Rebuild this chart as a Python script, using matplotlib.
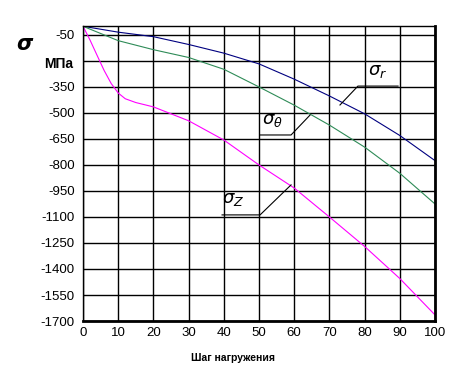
import matplotlib
matplotlib.use("Agg")
import matplotlib.pyplot as plt

plt.rcParams['font.family'] = ['Liberation Sans', 'DejaVu Sans']

# данные
steps = [0, 10, 20, 30, 40, 50, 60, 70, 80, 90, 100]
sigma_r = [0, -34, -60, -105, -155, -217, -305, -402, -505, -630, -775]
sigma_t = [0, -83, -135, -180, -248, -350, -455, -570, -697, -848, -1025]

steps_z = [0, 2, 4, 6, 8, 10, 12, 15, 20, 30, 40, 50, 60, 70, 80, 90, 100]
sigma_z = [0, -80, -168, -255, -330, -385, -418, -440, -465, -545, -656,
           -800, -933, -1100, -1270, -1455, -1665]

yticks = list(range(-50, -1701, -150))
ylabels = [str(v) if v != -200 else "" for v in yticks]
xticks = list(range(0, 101, 10))

fig = plt.figure(figsize=(4.62, 3.70), dpi=100)
ax = fig.add_axes([0.1797, 0.1324, 0.7619, 0.7966])

ax.plot(steps, sigma_r, color="#000080", lw=0.8)
ax.plot(steps, sigma_t, color="#2e8b57", lw=0.8)
ax.plot(steps_z, sigma_z, color="#ff00ff", lw=0.8)

ax.set_xlim(0, 100)
ax.set_ylim(-1700, 0)
ax.set_xticks(xticks)
ax.set_yticks(yticks)
ax.set_yticklabels(ylabels)
ax.grid(True, color="black", lw=1.0)
ax.tick_params(length=0, labelsize=9.5, pad=6)
ax.tick_params(axis="x", pad=4)
for s in ["left", "top"]:
    ax.spines[s].set_linewidth(1.0)
for s in ["right", "bottom"]:
    ax.spines[s].set_linewidth(2.0)

# подписи кривых с выносками
ax.plot([73.0, 78.1, 89.5], [-454, -345, -345], color="black", lw=0.8)
ax.text(83.8, -258, r"$\sigma_r$", fontsize=13, ha="center", va="center")
ax.plot([50.3, 59.1, 64.5], [-627, -627, -512], color="black", lw=0.8)
ax.text(53.7, -541, r"$\sigma_\theta$", fontsize=13, ha="center", va="center")
ax.plot([39.5, 50.3, 59.1], [-1088, -1088, -915], color="black", lw=0.8)
ax.text(42.6, -1002, r"$\sigma_Z$", fontsize=13, ha="center", va="center")

fig.text(25 / 462, 1 - 45 / 370, r"$\boldsymbol{\sigma}$", fontsize=15,
         ha="center", va="center")
fig.text(73 / 462, 1 - 64 / 370, "МПа", fontsize=10, fontweight="bold",
         ha="right", va="center")
fig.text(233 / 462, 1 - 358 / 370, "Шаг нагружения", fontsize=7.5,
         fontweight="bold", ha="center", va="center")

fig.savefig("out.png", dpi=100)
